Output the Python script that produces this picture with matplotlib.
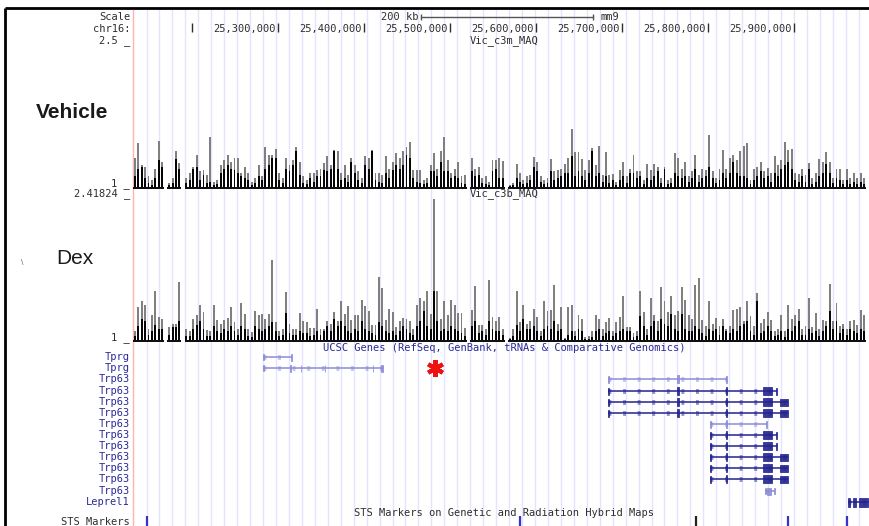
import numpy as np
import matplotlib
matplotlib.use("Agg")
import matplotlib.pyplot as plt
from matplotlib.patches import Rectangle

W, H = 869, 526
X0 = 133                       # left edge of data area (px)
BP_PER_PX = 100_000 / 86.0
G0 = 25_131_400                # chr16 position at the left edge
BIN = 4000                     # wiggle window size (bp)

# ---- wiggle tracks: max (grey) and mean (black) per window, None = no data
veh_max = [
    1.31, 1.47, 1.24, 1.22, 1.12, 1.08, 1.20, 1.49, 1.27, None,
    1.05, 1.10, 1.38, 1.26, None, 1.10, 1.15, 1.22, 1.34, 1.17,
    1.19, 1.13, 1.53, 1.06, 1.08, 1.24, 1.29, 1.34, 1.27, 1.31,
    1.31, 1.15, 1.22, 1.15, 1.06, 1.10, 1.24, 1.12, 1.43, 1.34,
    1.34, 1.41, 1.15, 1.10, 1.31, 1.24, 1.29, 1.43, 1.27, 1.12,
    1.08, 1.15, 1.15, 1.19, 1.20, 1.26, 1.33, 1.24, 1.40, 1.38,
    1.15, 1.24, 1.13, 1.31, 1.24, 1.17, 1.10, 1.33, 1.31, 1.39,
    1.15, 1.15, 1.13, 1.33, 1.20, 1.27, 1.36, 1.31, 1.38, 1.43,
    1.48, 1.19, 1.19, 1.19, 1.08, 1.10, 1.24, 1.36, 1.20, 1.38,
    1.53, 1.29, 1.15, 1.20, 1.27, 1.12, 1.13, None, 1.31, 1.20,
    1.22, 1.10, 1.12, 1.06, 1.29, 1.29, 1.31, 1.28, None, 1.03,
    1.05, 1.25, 1.15, 1.08, 1.12, 1.13, 1.32, 1.27, 1.12, 1.08,
    1.10, 1.30, 1.17, 1.19, 1.20, 1.25, 1.31, 1.61, 1.37, 1.37,
    1.30, 1.19, 1.29, 1.42, 1.24, 1.44, 1.13, 1.37, 1.13, 1.14,
    1.06, 1.19, 1.27, 1.12, 1.20, 1.34, 1.17, 1.17, 1.08, 1.25,
    1.19, 1.25, 1.22, 1.10, 1.22, 1.08, 1.10, 1.36, 1.31, 1.20,
    1.27, 1.12, 1.17, 1.34, 1.13, 1.20, 1.19, 1.55, 1.17, 1.10,
    1.20, 1.40, 1.20, 1.31, 1.34, 1.29, 1.38, 1.44, 1.47, 1.08,
    1.20, 1.22, 1.27, 1.17, 1.21, 1.15, 1.33, 1.24, 1.29, 1.48,
    1.40, 1.41, 1.15, 1.14, 1.20, 1.13, 1.26, 1.10, 1.15, 1.30,
    1.27, 1.37, 1.27, 1.10, 1.20, 1.20, 1.08, 1.20, 1.10, 1.15,
    1.10, 1.15, 1.10,
]
veh_mean = [
    1.12, 1.20, 1.22, 1.10, 1.05, 1.03, 1.10, 1.29, 1.22, None,
    1.03, 1.05, 1.30, 1.20, None, 1.05, 1.08, 1.20, 1.22, 1.08,
    1.13, 1.05, 1.06, 1.03, 1.04, 1.15, 1.20, 1.24, 1.20, 1.19,
    1.15, 1.12, 1.10, 1.08, 1.03, 1.05, 1.12, 1.08, 1.20, 1.24,
    1.31, 1.31, 1.08, 1.05, 1.20, 1.17, 1.24, 1.38, 1.13, 1.05,
    1.04, 1.10, 1.06, 1.12, 1.12, 1.19, 1.17, 1.20, 1.38, 1.20,
    1.08, 1.10, 1.06, 1.27, 1.15, 1.08, 1.05, 1.24, 1.20, 1.38,
    1.08, 1.06, 1.05, 1.15, 1.10, 1.19, 1.24, 1.20, 1.24, 1.34,
    1.31, 1.10, 1.06, 1.05, 1.04, 1.05, 1.17, 1.17, 1.12, 1.27,
    1.17, 1.17, 1.10, 1.12, 1.10, 1.05, 1.04, None, 1.17, 1.12,
    1.13, 1.05, 1.04, 1.03, 1.17, 1.20, 1.10, 1.10, None, 1.02,
    1.03, 1.10, 1.06, 1.04, 1.05, 1.08, 1.22, 1.17, 1.06, 1.04,
    1.05, 1.17, 1.08, 1.10, 1.12, 1.15, 1.15, 1.33, 1.12, 1.17,
    1.12, 1.08, 1.15, 1.38, 1.12, 1.15, 1.06, 1.12, 1.05, 1.08,
    1.03, 1.08, 1.12, 1.05, 1.15, 1.15, 1.10, 1.12, 1.04, 1.10,
    1.08, 1.12, 1.17, 1.05, 1.20, 1.04, 1.05, 1.15, 1.12, 1.10,
    1.12, 1.06, 1.10, 1.20, 1.06, 1.10, 1.12, 1.22, 1.10, 1.05,
    1.08, 1.15, 1.10, 1.15, 1.27, 1.15, 1.12, 1.12, 1.10, 1.04,
    1.08, 1.12, 1.17, 1.10, 1.12, 1.06, 1.15, 1.12, 1.20, 1.24,
    1.27, 1.20, 1.08, 1.06, 1.12, 1.06, 1.20, 1.04, 1.06, 1.12,
    1.15, 1.25, 1.15, 1.05, 1.10, 1.08, 1.04, 1.08, 1.04, 1.06,
    1.04, 1.06, 1.04,
]
dex_max = [
    1.10, 1.33, 1.39, 1.35, 1.12, 1.26, 1.49, 1.24, 1.22, None,
    1.14, 1.17, 1.17, 1.58, None, 1.12, 1.10, 1.22, 1.26, 1.35,
    1.29, 1.11, 1.10, 1.35, 1.21, 1.17, 1.21, 1.23, 1.33, 1.19,
    1.12, 1.37, 1.27, 1.12, 1.09, 1.30, 1.26, 1.27, 1.22, 1.27,
    1.80, 1.19, 1.10, 1.12, 1.48, 1.17, 1.12, 1.12, 1.28, 1.20,
    1.19, 1.13, 1.13, 1.32, 1.12, 1.12, 1.20, 1.17, 1.29, 1.20,
    1.39, 1.27, 1.34, 1.21, 1.26, 1.26, 1.40, 1.34, 1.30, 1.16,
    1.16, 1.63, 1.52, 1.21, 1.32, 1.29, 1.14, 1.20, 1.23, 1.22,
    1.20, 1.12, 1.35, 1.42, 1.39, 1.49, 1.27, 2.40, 1.49, 1.22,
    1.39, 1.26, 1.40, 1.35, 1.28, 1.28, 1.13, None, 1.31, 1.54,
    1.16, 1.16, 1.12, 1.60, 1.24, 1.20, 1.24, 1.12, None, 1.03,
    1.12, 1.49, 1.19, 1.35, 1.17, 1.20, 1.32, 1.24, 1.10, 1.39,
    1.30, 1.31, 1.55, 1.17, 1.33, 1.03, 1.33, 1.35, 1.10, 1.26,
    1.22, 1.04, 1.05, 1.10, 1.26, 1.22, 1.12, 1.19, 1.23, 1.10,
    1.19, 1.24, 1.44, 1.14, 1.14, 1.08, 1.10, 1.49, 1.29, 1.12,
    1.42, 1.26, 1.20, 1.53, 1.39, 1.29, 1.44, 1.26, 1.30, 1.53,
    1.40, 1.26, 1.22, 1.55, 1.62, 1.21, 1.15, 1.39, 1.17, 1.23,
    1.15, 1.22, 1.12, 1.15, 1.31, 1.32, 1.33, 1.20, 1.39, 1.25,
    1.15, 1.47, 1.18, 1.22, 1.29, 1.21, 1.10, 1.12, 1.26, 1.10,
    1.35, 1.22, 1.26, 1.32, 1.12, 1.15, 1.42, 1.14, 1.28, 1.12,
    1.21, 1.20, 1.56, 1.20, 1.37, 1.15, 1.17, 1.12, 1.20, 1.21,
    1.16, 1.31, 1.26,
]
dex_mean = [
    1.05, 1.15, 1.22, 1.20, 1.06, 1.10, 1.16, 1.12, 1.12, None,
    1.06, 1.14, 1.14, 1.20, None, 1.05, 1.05, 1.12, 1.16, 1.20,
    1.12, 1.05, 1.05, 1.15, 1.10, 1.08, 1.12, 1.10, 1.15, 1.10,
    1.06, 1.15, 1.12, 1.05, 1.04, 1.15, 1.12, 1.10, 1.12, 1.15,
    1.19, 1.10, 1.05, 1.06, 1.28, 1.08, 1.06, 1.06, 1.10, 1.08,
    1.08, 1.05, 1.06, 1.10, 1.06, 1.10, 1.15, 1.10, 1.22, 1.15,
    1.20, 1.15, 1.10, 1.08, 1.12, 1.10, 1.20, 1.12, 1.10, 1.08,
    1.06, 1.19, 1.15, 1.10, 1.08, 1.10, 1.06, 1.10, 1.15, 1.12,
    1.08, 1.06, 1.15, 1.20, 1.30, 1.15, 1.12, 1.49, 1.20, 1.10,
    1.12, 1.10, 1.15, 1.12, 1.10, 1.08, 1.05, None, 1.15, 1.20,
    1.08, 1.10, 1.06, 1.20, 1.12, 1.10, 1.10, 1.06, None, 1.02,
    1.05, 1.16, 1.10, 1.22, 1.12, 1.12, 1.15, 1.10, 1.05, 1.12,
    1.15, 1.12, 1.20, 1.10, 1.12, 1.02, 1.06, 1.10, 1.05, 1.12,
    1.10, 1.02, 1.02, 1.04, 1.10, 1.12, 1.05, 1.08, 1.10, 1.05,
    1.08, 1.10, 1.12, 1.10, 1.10, 1.04, 1.05, 1.25, 1.15, 1.06,
    1.15, 1.20, 1.10, 1.22, 1.17, 1.15, 1.27, 1.12, 1.10, 1.27,
    1.12, 1.10, 1.10, 1.15, 1.12, 1.08, 1.05, 1.12, 1.10, 1.12,
    1.06, 1.15, 1.10, 1.08, 1.12, 1.10, 1.15, 1.17, 1.20, 1.10,
    1.06, 1.39, 1.08, 1.10, 1.15, 1.10, 1.05, 1.06, 1.10, 1.04,
    1.12, 1.10, 1.15, 1.20, 1.06, 1.06, 1.12, 1.08, 1.10, 1.05,
    1.10, 1.15, 1.30, 1.12, 1.20, 1.08, 1.12, 1.06, 1.12, 1.10,
    1.08, 1.12, 1.10,
]

# ---- ruler
ruler_ticks = [25_200_000, 25_300_000, 25_400_000, 25_500_000,
               25_600_000, 25_700_000, 25_800_000, 25_900_000]
scale_start, scale_len = 25_466_300, 200_000

# ---- UCSC genes: name, row y (px), tx start, tx end, exons (start, end, height px), light
gene_names = ["Tprg", "Tprg"] + ["Trp63"] * 11 + ["Leprel1"]
gene_rows = [357, 368, 379, 391, 402, 413, 424, 435, 446, 457, 468, 479, 491, 502]
gene_light = [True, True, True, False, False, False, True, False, False,
              False, False, False, True, False]
gene_spans = [
    (25_282_500, 25_316_300), (25_282_500, 25_422_000),
    (25_683_700, 25_822_100), (25_683_700, 25_880_300),
    (25_683_700, 25_893_000), (25_683_700, 25_893_000),
    (25_802_300, 25_868_600), (25_802_300, 25_880_300),
    (25_802_300, 25_880_300), (25_802_300, 25_893_000),
    (25_802_300, 25_893_000), (25_802_300, 25_893_000),
    (25_866_300, 25_877_900), (25_962_800, 25_987_200),
]
ex_p63a = (25_683_700, 25_684_800, 7)
ex_p63b = (25_802_300, 25_803_400, 7)
ex_678 = (25_764_500, 25_765_800, 8)
ex_727 = (25_821_300, 25_822_500, 8)
ex_blk = (25_864_500, 25_875_000, 8)
ex_tick = (25_879_300, 25_880_300, 7)
ex_end = (25_884_000, 25_892_500, 7)
gene_exons = [
    [(25_282_500, 25_283_500, 6), (25_315_300, 25_316_300, 7)],
    [(25_282_500, 25_283_500, 6), (25_314_500, 25_315_700, 7), (25_326_200, 25_327_300, 7),
     (25_354_100, 25_355_200, 7), (25_409_900, 25_411_000, 7), (25_419_200, 25_422_000, 7)],
    [ex_p63a, ex_678, (25_821_000, 25_822_100, 7)],
    [ex_p63a, ex_678, ex_727, ex_blk, ex_tick],
    [ex_p63a, ex_678, ex_727, ex_blk, ex_end],
    [ex_p63a, ex_678, ex_727, ex_blk, ex_end],
    [ex_p63b, ex_727, (25_867_300, 25_868_600, 7)],
    [ex_p63b, ex_727, ex_blk, ex_tick],
    [ex_p63b, ex_727, ex_blk, ex_tick],
    [ex_p63b, ex_727, ex_blk, ex_end],
    [ex_p63b, ex_727, ex_blk, ex_end],
    [ex_p63b, ex_727, ex_blk, ex_end],
    [(25_866_300, 25_867_000, 6), (25_868_600, 25_873_300, 7), (25_877_200, 25_877_900, 6)],
    [(25_962_800, 25_964_800, 9), (25_969_000, 25_971_800, 9), (25_976_000, 25_986_500, 9)],
]

# ---- STS markers
sts_pos = [25_147_700, 25_581_400, 25_786_000, 25_893_000, 25_961_600]
sts_col = ["#3434c8", "#3434c8", "#222222", "#3434c8", "#3434c8"]

# ---------------------------------------------------------------------------
MONO = "DejaVu Sans Mono"
TXT = "#2e2e2e"
BLUE_TXT = "#2a2a98"
DARK = "#23238e"
LIGHT = "#8c8cd8"


def gx(px):
    return G0 + (px - X0) * BP_PER_PX


fig = plt.figure(figsize=(W / 100, H / 100), dpi=100)


def px_axes(x0, y0, x1, y1):
    ax = fig.add_axes([x0 / W, 1 - y1 / H, (x1 - x0) / W, (y1 - y0) / H])
    ax.set_facecolor("none")
    ax.axis("off")
    return ax


# background: frame, guide lines, labels
bg = px_axes(0, 0, W, H)
bg.set_xlim(0, W)
bg.set_ylim(H, 0)
bg.vlines(np.arange(146.5, 866, 12.95), 9, H, color="#e4e4ff", lw=1)
bg.vlines(X0, 9, H, color="#ffb4b4", lw=1)
bg.plot([5, W], [8, 8], color="black", lw=2, solid_capstyle="butt")
bg.plot([5, 5], [8, H], color="black", lw=2, solid_capstyle="butt")

side = dict(ha="right", va="center", family=MONO, fontsize=7.5, color=TXT)
bg.text(130, 17, "Scale", **side)
bg.text(130, 29, "chr16:", **side)
bg.text(130, 41, "2.5 _", **side)
bg.text(130, 184, "1 _", **side)
bg.text(130, 194, "2.41824 _", **side)
bg.text(130, 338, "1 _", **side)
bg.text(36, 112, "Vehicle", ha="left", va="center", family="Liberation Sans",
        fontsize=15, fontweight="bold", color="#1a1a1a")
bg.text(56, 259, "Dex", ha="left", va="center", family="Liberation Sans",
        fontsize=15, color="#1a1a1a")
bg.text(22, 262, "\\", ha="center", va="center", fontsize=5, color="#555555")
for y, name in zip(gene_rows, gene_names):
    bg.text(130, y, name, ha="right", va="center", family=MONO, fontsize=7.5, color=BLUE_TXT)
bg.text(130, 522, "STS Markers", **side)
bg.plot(435, 368, marker=(6, 2, 0), ms=12, mew=3, color="#ee1111")

# genome-coordinate overlay (ruler, genes, STS)
ax_g = px_axes(X0, 0, W, H)
ax_g.set_xlim(G0, gx(W))
ax_g.set_ylim(H, 0)

ax_g.vlines(ruler_ticks, 23, 32, color=TXT, lw=1)
for t in ruler_ticks[1:]:
    ax_g.text(t - 2500, 29, f"{t:,}", ha="right", va="center", family=MONO,
              fontsize=7.5, color=TXT)
ax_g.plot([scale_start, scale_start + scale_len], [17, 17], color="#555555", lw=1)
ax_g.vlines([scale_start, scale_start + scale_len], 14, 20, color="#555555", lw=1)
ax_g.text(scale_start - 2500, 17, "200 kb", ha="right", va="center", family=MONO,
          fontsize=7.5, color=TXT)
ax_g.text(scale_start + scale_len + 9000, 17, "mm9", ha="left", va="center",
          family=MONO, fontsize=7.5, color=TXT)
mid = gx(504)
ax_g.text(mid, 41, "Vic_c3m_MAQ", ha="center", va="center", family=MONO, fontsize=7.5, color=TXT)
ax_g.text(mid, 194, "Vic_c3b_MAQ", ha="center", va="center", family=MONO, fontsize=7.5, color=TXT)
ax_g.text(mid, 348, "UCSC Genes (RefSeq, GenBank, tRNAs & Comparative Genomics)",
          ha="center", va="center", family=MONO, fontsize=7.5, color=BLUE_TXT)
ax_g.text(mid, 513, "STS Markers on Genetic and Radiation Hybrid Maps",
          ha="center", va="center", family=MONO, fontsize=7.5, color=TXT)

for y, (s, e), exons, light in zip(gene_rows, gene_spans, gene_exons, gene_light):
    col = LIGHT if light else DARK
    ax_g.plot([s, e], [y, y], color=col, lw=1.1, solid_capstyle="butt")
    ax_g.plot([s, e], [y, y], color=col, lw=3.5, dashes=(0.6, 2.4), alpha=0.5)
    for es, ee, h in exons:
        ax_g.add_patch(Rectangle((es, y - h / 2), ee - es, h, facecolor=col,
                                 edgecolor=col, lw=0.6, alpha=0.9))

ax_g.vlines(sts_pos, 516, H, colors=sts_col, lw=1.6)


# wiggle tracks
centers = G0 + BIN * (np.arange(len(veh_max)) + 0.5)


def draw_track(top_px, base_px, top_val, vmax, vmean):
    upx = (top_val - 1) / (base_px - top_px)
    ax = px_axes(X0, top_px, 866, base_px + 2.5)
    ax.set_xlim(G0, gx(866))
    ax.set_ylim(1 - 2.5 * upx, top_val)
    vmax = np.array(vmax, dtype=float)
    vmean = np.array(vmean, dtype=float)
    ok = ~np.isnan(vmax)
    x = centers[ok]
    ax.bar(x, vmax[ok] - 1, bottom=1, width=BIN * 0.55, color="#808080", lw=0)
    ax.bar(x, vmean[ok] - 1, bottom=1, width=BIN * 0.55, color="#050505", lw=0)
    ax.bar(x, 2.2 * upx, bottom=1 - 1.1 * upx, width=BIN, color="#101010", lw=0)
    return ax


draw_track(44.5, 187.7, 2.5, veh_max, veh_mean)
draw_track(197, 341, 2.41824, dex_max, dex_mean)

fig.savefig("out.png", dpi=100)
